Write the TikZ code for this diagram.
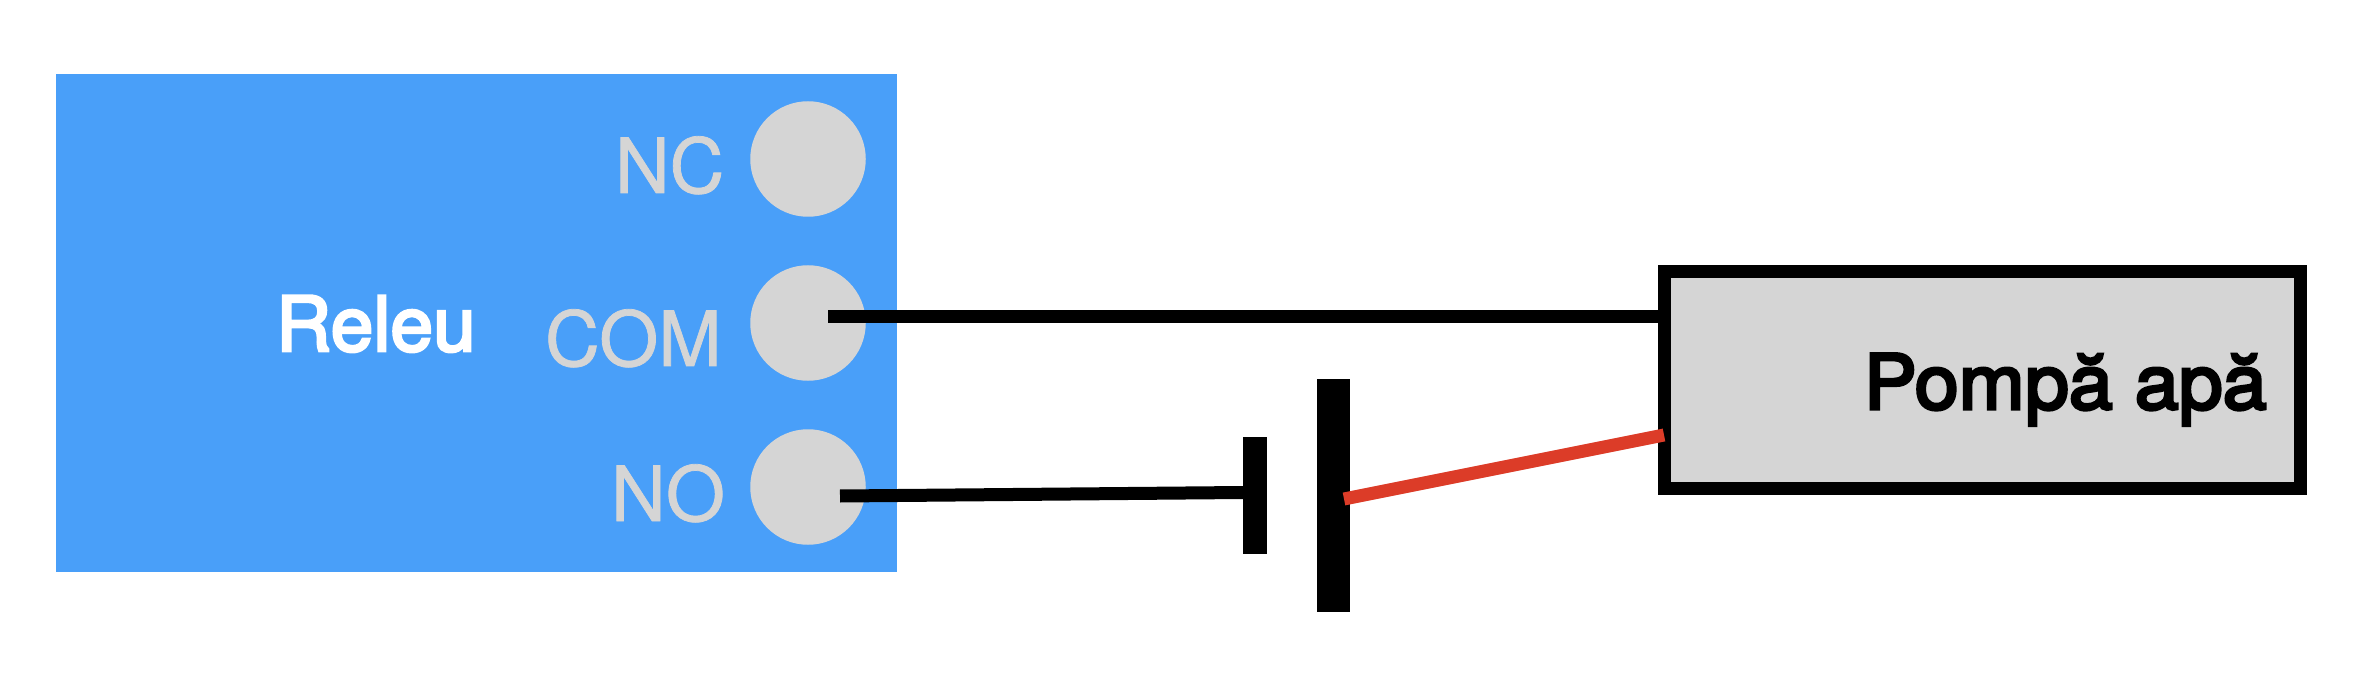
\documentclass[tikz,border=0pt]{standalone}
\usepackage{fontspec}
\setmainfont{TeX Gyre Heros}
\newfontfamily\termfont[FakeBold=1]{TeX Gyre Heros}
\newfontfamily\relfont[FakeBold=3.5,FakeStretch=1.01]{TeX Gyre Heros}
\newfontfamily\pumpfont[FakeBold=4,FakeStretch=1.04]{TeX Gyre Heros}
\definecolor{relayblue}{HTML}{499FF9}
\definecolor{termgray}{HTML}{D5D5D5}
\definecolor{wirered}{HTML}{DC3C28}
\tikzset{
  x=1pt,y=-1pt,
  label/.style={anchor=base west,inner sep=0pt,outer sep=0pt,font=\fontsize{76}{76}\selectfont},
  termlabel/.style={label,text=termgray},
  terminal/.style={circle,fill=termgray,minimum size=115.5pt,inner sep=0pt,outer sep=0pt},
  wire/.style={line width=13pt,black,line cap=butt},
  plate/.style={fill=black,draw=none,inner sep=0pt,outer sep=0pt},
}
\begin{document}
\begin{tikzpicture}
\useasboundingbox (0,0) rectangle (2368,684);
\node[fill=relayblue,inner sep=0pt,outer sep=0pt,minimum width=841pt,minimum height=498pt] (relay) at (476.5,323) {};
\node[terminal] (nc) at (808,159) {};
\node[terminal] (com) at (808,323) {};
\node[terminal] (no) at (808,487) {};
\node[termlabel] (lnc) at (615,193) {\termfont NC};
\node[termlabel] (lcom) at (545,366) {\termfont COM};
\node[termlabel] (lno) at (611,521) {\termfont NO};
\node[label,text=white] (lrel) at (276,351) {\relfont Releu};
\node[draw=black,line width=13pt,fill=termgray,inner sep=0pt,outer sep=0pt,minimum width=636pt,minimum height=217pt] (pump) at (1982.5,380) {};
\node[label,text=black] (lpump) at (1864,409) {\pumpfont Pompă apă};
\node[plate,minimum width=24pt,minimum height=117pt] (neg) at (1255,495.5) {};
\node[plate,minimum width=33pt,minimum height=233pt] (pos) at (1333.5,495.5) {};
\coordinate (comend) at (828,317);
\coordinate (noend) at (840,496);
\coordinate (pumpin) at (1658,317);
\coordinate (negin) at (1243,492.5);
\coordinate (redstart) at (1344,499);
\coordinate (redend) at (1664,435);
\draw[wire] (comend) -- (pumpin);
\draw[wire] (noend) -- (negin);
\draw[line width=13pt,wirered] (redstart) -- (redend);
\end{tikzpicture}
\end{document}
